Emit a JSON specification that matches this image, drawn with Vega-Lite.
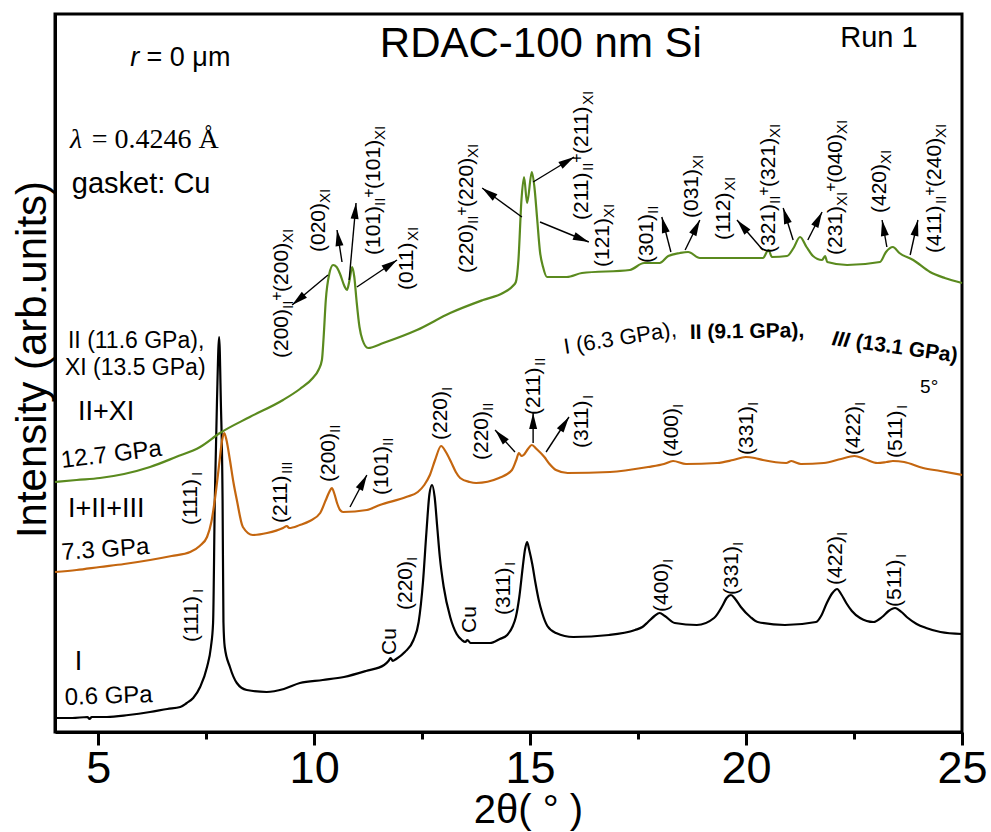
{
  "$schema": "https://vega.github.io/schema/vega-lite/v6.json",
  "width": 907,
  "height": 718,
  "autosize": {"type": "none"},
  "padding": {"left": 55, "top": 14, "right": 29, "bottom": 100},
  "background": "white",
  "config": {
    "font": "Liberation Sans",
    "view": {"stroke": "black", "strokeWidth": 3},
    "axis": {"grid": false}
  },
  "datasets": {
    "cur": [
      {"s":"k","x":4.0,"v":14},{"s":"k","x":4.4,"v":14},{"s":"k","x":4.75,"v":15},{"s":"k","x":4.8,"v":13},{"s":"k","x":4.85,"v":15},{"s":"k","x":5.2,"v":15},{"s":"k","x":5.7,"v":17},{"s":"k","x":6.2,"v":20},{"s":"k","x":6.6,"v":23},{"s":"k","x":6.9,"v":25},{"s":"k","x":7.05,"v":29},{"s":"k","x":7.2,"v":34},{"s":"k","x":7.36,"v":45},{"s":"k","x":7.52,"v":65},{"s":"k","x":7.61,"v":85},{"s":"k","x":7.66,"v":109},{"s":"k","x":7.7,"v":232},{"s":"k","x":7.75,"v":330},{"s":"k","x":7.8,"v":395},{"s":"k","x":7.84,"v":330},{"s":"k","x":7.88,"v":232},{"s":"k","x":7.9,"v":110},{"s":"k","x":7.93,"v":85},{"s":"k","x":8.05,"v":65},{"s":"k","x":8.21,"v":49},{"s":"k","x":8.44,"v":42},{"s":"k","x":8.9,"v":40},{"s":"k","x":9.3,"v":43},{"s":"k","x":9.67,"v":49},{"s":"k","x":10.2,"v":52},{"s":"k","x":10.69,"v":55},{"s":"k","x":11.2,"v":61},{"s":"k","x":11.62,"v":67},{"s":"k","x":11.72,"v":71},{"s":"k","x":11.77,"v":74},{"s":"k","x":11.82,"v":71},{"s":"k","x":11.9,"v":73},{"s":"k","x":12.1,"v":80},{"s":"k","x":12.3,"v":92},{"s":"k","x":12.42,"v":110},{"s":"k","x":12.52,"v":150},{"s":"k","x":12.6,"v":200},{"s":"k","x":12.67,"v":238},{"s":"k","x":12.73,"v":247},{"s":"k","x":12.79,"v":235},{"s":"k","x":12.85,"v":205},{"s":"k","x":12.91,"v":175},{"s":"k","x":13.0,"v":145},{"s":"k","x":13.15,"v":115},{"s":"k","x":13.3,"v":98},{"s":"k","x":13.42,"v":92},{"s":"k","x":13.5,"v":90},{"s":"k","x":13.55,"v":92},{"s":"k","x":13.62,"v":89},{"s":"k","x":13.8,"v":89},{"s":"k","x":14.07,"v":89},{"s":"k","x":14.3,"v":93},{"s":"k","x":14.47,"v":97},{"s":"k","x":14.6,"v":106},{"s":"k","x":14.67,"v":115},{"s":"k","x":14.75,"v":135},{"s":"k","x":14.83,"v":165},{"s":"k","x":14.88,"v":182},{"s":"k","x":14.93,"v":190},{"s":"k","x":14.98,"v":182},{"s":"k","x":15.05,"v":168},{"s":"k","x":15.12,"v":150},{"s":"k","x":15.2,"v":132},{"s":"k","x":15.28,"v":119},{"s":"k","x":15.4,"v":106},{"s":"k","x":15.6,"v":99},{"s":"k","x":16.0,"v":95},{"s":"k","x":16.83,"v":97},{"s":"k","x":17.43,"v":102},{"s":"k","x":17.6,"v":105},{"s":"k","x":17.73,"v":110},{"s":"k","x":17.88,"v":116},{"s":"k","x":18.0,"v":119},{"s":"k","x":18.12,"v":116},{"s":"k","x":18.35,"v":109},{"s":"k","x":18.86,"v":107},{"s":"k","x":19.26,"v":114},{"s":"k","x":19.45,"v":126},{"s":"k","x":19.55,"v":134},{"s":"k","x":19.65,"v":137},{"s":"k","x":19.75,"v":133},{"s":"k","x":19.88,"v":125},{"s":"k","x":20.1,"v":115},{"s":"k","x":20.27,"v":110},{"s":"k","x":20.9,"v":107},{"s":"k","x":21.62,"v":110},{"s":"k","x":21.75,"v":117},{"s":"k","x":21.87,"v":129},{"s":"k","x":22.0,"v":139},{"s":"k","x":22.11,"v":143},{"s":"k","x":22.2,"v":138},{"s":"k","x":22.32,"v":129},{"s":"k","x":22.45,"v":121},{"s":"k","x":22.64,"v":114},{"s":"k","x":22.95,"v":110},{"s":"k","x":23.15,"v":115},{"s":"k","x":23.3,"v":121},{"s":"k","x":23.45,"v":124},{"s":"k","x":23.6,"v":120},{"s":"k","x":23.75,"v":114},{"s":"k","x":23.95,"v":108},{"s":"k","x":24.17,"v":104},{"s":"k","x":24.5,"v":100},{"s":"k","x":25.0,"v":98},
      {"s":"o","x":4.0,"v":160},{"s":"o","x":4.5,"v":162},{"s":"o","x":5.04,"v":165},{"s":"o","x":5.6,"v":168},{"s":"o","x":6.2,"v":172},{"s":"o","x":6.7,"v":176},{"s":"o","x":7.13,"v":180},{"s":"o","x":7.35,"v":186},{"s":"o","x":7.52,"v":195},{"s":"o","x":7.62,"v":210},{"s":"o","x":7.7,"v":232},{"s":"o","x":7.78,"v":260},{"s":"o","x":7.82,"v":275},{"s":"o","x":7.87,"v":292},{"s":"o","x":7.92,"v":299},{"s":"o","x":7.97,"v":292},{"s":"o","x":8.05,"v":272},{"s":"o","x":8.13,"v":250},{"s":"o","x":8.21,"v":232},{"s":"o","x":8.35,"v":205},{"s":"o","x":8.58,"v":197},{"s":"o","x":8.91,"v":199},{"s":"o","x":9.28,"v":204},{"s":"o","x":9.37,"v":206},{"s":"o","x":9.42,"v":204},{"s":"o","x":9.67,"v":207},{"s":"o","x":9.9,"v":211},{"s":"o","x":10.14,"v":219},{"s":"o","x":10.27,"v":232},{"s":"o","x":10.35,"v":240},{"s":"o","x":10.41,"v":244},{"s":"o","x":10.47,"v":238},{"s":"o","x":10.53,"v":229},{"s":"o","x":10.6,"v":222},{"s":"o","x":10.67,"v":220},{"s":"o","x":11.22,"v":222},{"s":"o","x":11.52,"v":227},{"s":"o","x":12.13,"v":235},{"s":"o","x":12.4,"v":240},{"s":"o","x":12.55,"v":247},{"s":"o","x":12.68,"v":257},{"s":"o","x":12.8,"v":272},{"s":"o","x":12.94,"v":286},{"s":"o","x":13.05,"v":280},{"s":"o","x":13.17,"v":270},{"s":"o","x":13.28,"v":260},{"s":"o","x":13.38,"v":254},{"s":"o","x":13.6,"v":250},{"s":"o","x":13.75,"v":249},{"s":"o","x":14.28,"v":254},{"s":"o","x":14.58,"v":262},{"s":"o","x":14.68,"v":272},{"s":"o","x":14.74,"v":279},{"s":"o","x":14.8,"v":276},{"s":"o","x":14.85,"v":277},{"s":"o","x":14.95,"v":283},{"s":"o","x":15.04,"v":287},{"s":"o","x":15.15,"v":283},{"s":"o","x":15.33,"v":275},{"s":"o","x":15.45,"v":268},{"s":"o","x":15.6,"v":262},{"s":"o","x":15.87,"v":259},{"s":"o","x":16.85,"v":260},{"s":"o","x":17.73,"v":265},{"s":"o","x":18.1,"v":268},{"s":"o","x":18.31,"v":271},{"s":"o","x":18.61,"v":268},{"s":"o","x":19.33,"v":269},{"s":"o","x":19.7,"v":272},{"s":"o","x":19.99,"v":275},{"s":"o","x":20.2,"v":274},{"s":"o","x":20.39,"v":272},{"s":"o","x":20.93,"v":269},{"s":"o","x":21.05,"v":271},{"s":"o","x":21.12,"v":270},{"s":"o","x":21.27,"v":268},{"s":"o","x":21.8,"v":269},{"s":"o","x":22.2,"v":273},{"s":"o","x":22.51,"v":276},{"s":"o","x":22.75,"v":273},{"s":"o","x":23.04,"v":269},{"s":"o","x":23.25,"v":270},{"s":"o","x":23.4,"v":271},{"s":"o","x":23.66,"v":270},{"s":"o","x":24.1,"v":264},{"s":"o","x":24.5,"v":261},{"s":"o","x":25.0,"v":257},
      {"s":"g","x":4.0,"v":250},{"s":"g","x":4.5,"v":252},{"s":"g","x":5.04,"v":254},{"s":"g","x":5.6,"v":258},{"s":"g","x":6.2,"v":265},{"s":"g","x":6.8,"v":275},{"s":"g","x":7.36,"v":285},{"s":"g","x":7.82,"v":299},{"s":"g","x":8.51,"v":315},{"s":"g","x":9.28,"v":332},{"s":"g","x":9.67,"v":343},{"s":"g","x":9.97,"v":354},{"s":"g","x":10.1,"v":362},{"s":"g","x":10.18,"v":372},{"s":"g","x":10.22,"v":395},{"s":"g","x":10.27,"v":432},{"s":"g","x":10.35,"v":458},{"s":"g","x":10.44,"v":467},{"s":"g","x":10.52,"v":465},{"s":"g","x":10.6,"v":458},{"s":"g","x":10.7,"v":446},{"s":"g","x":10.76,"v":442},{"s":"g","x":10.82,"v":452},{"s":"g","x":10.88,"v":465},{"s":"g","x":10.93,"v":455},{"s":"g","x":10.98,"v":432},{"s":"g","x":11.05,"v":405},{"s":"g","x":11.12,"v":392},{"s":"g","x":11.25,"v":384},{"s":"g","x":11.6,"v":389},{"s":"g","x":12.38,"v":402},{"s":"g","x":13.15,"v":419},{"s":"g","x":13.91,"v":432},{"s":"g","x":14.37,"v":439},{"s":"g","x":14.6,"v":446},{"s":"g","x":14.67,"v":450},{"s":"g","x":14.73,"v":472},{"s":"g","x":14.8,"v":532},{"s":"g","x":14.86,"v":555},{"s":"g","x":14.93,"v":529},{"s":"g","x":15.04,"v":560},{"s":"g","x":15.1,"v":545},{"s":"g","x":15.16,"v":515},{"s":"g","x":15.23,"v":480},{"s":"g","x":15.3,"v":465},{"s":"g","x":15.39,"v":455},{"s":"g","x":15.85,"v":455},{"s":"g","x":16.2,"v":459},{"s":"g","x":17.31,"v":462},{"s":"g","x":17.64,"v":469},{"s":"g","x":18.0,"v":469},{"s":"g","x":18.2,"v":476},{"s":"g","x":18.47,"v":479},{"s":"g","x":18.66,"v":480},{"s":"g","x":18.93,"v":474},{"s":"g","x":19.37,"v":474},{"s":"g","x":20.39,"v":474},{"s":"g","x":20.52,"v":482},{"s":"g","x":20.6,"v":475},{"s":"g","x":20.95,"v":476},{"s":"g","x":21.1,"v":484},{"s":"g","x":21.25,"v":495},{"s":"g","x":21.4,"v":485},{"s":"g","x":21.55,"v":476},{"s":"g","x":21.76,"v":472},{"s":"g","x":21.83,"v":476},{"s":"g","x":21.88,"v":470},{"s":"g","x":22.34,"v":467},{"s":"g","x":23.1,"v":470},{"s":"g","x":23.24,"v":480},{"s":"g","x":23.4,"v":485},{"s":"g","x":23.55,"v":479},{"s":"g","x":23.87,"v":472},{"s":"g","x":24.26,"v":460},{"s":"g","x":24.6,"v":454},{"s":"g","x":25.0,"v":449}
    ],
    "lab": [
      {"x":9.395,"v":374,"t":"(200)","k":"m"},{"x":9.395,"v":423,"t":"II","k":"s"},{"x":9.395,"v":431.3,"t":"+","k":"p"},{"x":9.395,"v":440.1,"t":"(200)","k":"m"},{"x":9.395,"v":489.1,"t":"XI","k":"s"},
      {"x":10.25,"v":480,"t":"(020)","k":"m"},{"x":10.25,"v":529,"t":"XI","k":"s"},
      {"x":11.525,"v":477,"t":"(101)","k":"m"},{"x":11.525,"v":526,"t":"II","k":"s"},{"x":11.525,"v":534.3,"t":"+","k":"p"},{"x":11.525,"v":543.1,"t":"(101)","k":"m"},{"x":11.525,"v":592.1,"t":"XI","k":"s"},
      {"x":12.29,"v":442,"t":"(011)","k":"m"},{"x":12.29,"v":491,"t":"XI","k":"s"},
      {"x":13.68,"v":459,"t":"(220)","k":"m"},{"x":13.68,"v":508,"t":"II","k":"s"},{"x":13.68,"v":516.3,"t":"+","k":"p"},{"x":13.68,"v":525.1,"t":"(220)","k":"m"},{"x":13.68,"v":574.1,"t":"XI","k":"s"},
      {"x":16.34,"v":512,"t":"(211)","k":"m"},{"x":16.34,"v":561,"t":"II","k":"s"},{"x":16.34,"v":569.3,"t":"+","k":"p"},{"x":16.34,"v":578.1,"t":"(211)","k":"m"},{"x":16.34,"v":627.1,"t":"XI","k":"s"},
      {"x":16.83,"v":465,"t":"(121)","k":"m"},{"x":16.83,"v":514,"t":"XI","k":"s"},
      {"x":17.85,"v":469,"t":"(301)","k":"m"},{"x":17.85,"v":518,"t":"II","k":"s"},
      {"x":18.89,"v":514,"t":"(031)","k":"m"},{"x":18.89,"v":563,"t":"XI","k":"s"},
      {"x":19.63,"v":492,"t":"(112)","k":"m"},{"x":19.63,"v":541,"t":"XI","k":"s"},
      {"x":20.67,"v":479,"t":"(321)","k":"m"},{"x":20.67,"v":528,"t":"II","k":"s"},{"x":20.67,"v":536.3,"t":"+","k":"p"},{"x":20.67,"v":545.1,"t":"(321)","k":"m"},{"x":20.67,"v":594.1,"t":"XI","k":"s"},
      {"x":22.22,"v":477,"t":"(231)","k":"m"},{"x":22.22,"v":526,"t":"XI","k":"s"},{"x":22.22,"v":540.2,"t":"+","k":"p"},{"x":22.22,"v":549,"t":"(040)","k":"m"},{"x":22.22,"v":598,"t":"XI","k":"s"},
      {"x":23.24,"v":519,"t":"(420)","k":"m"},{"x":23.24,"v":568,"t":"XI","k":"s"},
      {"x":24.51,"v":479,"t":"(411)","k":"m"},{"x":24.51,"v":528,"t":"II","k":"s"},{"x":24.51,"v":536.3,"t":"+","k":"p"},{"x":24.51,"v":545.1,"t":"(240)","k":"m"},{"x":24.51,"v":594.1,"t":"XI","k":"s"},
      {"x":7.29,"v":207,"t":"(111)","k":"m"},{"x":7.29,"v":256,"t":"I","k":"s"},
      {"x":9.37,"v":209,"t":"(211)","k":"m"},{"x":9.37,"v":258,"t":"III","k":"s"},
      {"x":10.48,"v":250,"t":"(200)","k":"m"},{"x":10.48,"v":299,"t":"II","k":"s"},
      {"x":11.71,"v":237,"t":"(101)","k":"m"},{"x":11.71,"v":286,"t":"II","k":"s"},
      {"x":13.08,"v":292,"t":"(220)","k":"m"},{"x":13.08,"v":341,"t":"I","k":"s"},
      {"x":14.03,"v":272,"t":"(220)","k":"m"},{"x":14.03,"v":321,"t":"II","k":"s"},
      {"x":15.23,"v":317,"t":"(211)","k":"m"},{"x":15.23,"v":366,"t":"II","k":"s"},
      {"x":16.34,"v":284,"t":"(311)","k":"m"},{"x":16.34,"v":333,"t":"I","k":"s"},
      {"x":18.42,"v":275,"t":"(400)","k":"m"},{"x":18.42,"v":324,"t":"I","k":"s"},
      {"x":20.16,"v":277,"t":"(331)","k":"m"},{"x":20.16,"v":326,"t":"I","k":"s"},
      {"x":22.64,"v":277,"t":"(422)","k":"m"},{"x":22.64,"v":326,"t":"I","k":"s"},
      {"x":23.61,"v":274,"t":"(511)","k":"m"},{"x":23.61,"v":323,"t":"I","k":"s"},
      {"x":7.31,"v":90,"t":"(111)","k":"m"},{"x":7.31,"v":139,"t":"I","k":"s"},
      {"x":11.9,"v":77,"t":"Cu","k":"m"},
      {"x":12.27,"v":122,"t":"(220)","k":"m"},{"x":12.27,"v":171,"t":"I","k":"s"},
      {"x":13.75,"v":99,"t":"Cu","k":"m"},
      {"x":14.53,"v":117,"t":"(311)","k":"m"},{"x":14.53,"v":166,"t":"I","k":"s"},
      {"x":18.19,"v":120,"t":"(400)","k":"m"},{"x":18.19,"v":169,"t":"I","k":"s"},
      {"x":19.81,"v":137,"t":"(331)","k":"m"},{"x":19.81,"v":186,"t":"I","k":"s"},
      {"x":22.22,"v":147,"t":"(422)","k":"m"},{"x":22.22,"v":196,"t":"I","k":"s"},
      {"x":23.59,"v":125,"t":"(511)","k":"m"},{"x":23.59,"v":174,"t":"I","k":"s"}
    ],
    "arr": [
      {"x":10.32,"v":457,"x2":9.49,"v2":427},
      {"x":10.645,"v":470,"x2":10.53,"v2":502},
      {"x":10.81,"v":452,"x2":10.97,"v2":529},
      {"x":10.99,"v":445,"x2":11.92,"v2":472},
      {"x":14.81,"v":515,"x2":13.89,"v2":544},
      {"x":15.07,"v":550,"x2":16.02,"v2":575},
      {"x":15.23,"v":510,"x2":16.36,"v2":490},
      {"x":18.26,"v":480,"x2":18.05,"v2":515},
      {"x":18.59,"v":482,"x2":18.93,"v2":512},
      {"x":20.39,"v":482,"x2":19.79,"v2":512},
      {"x":21.09,"v":492,"x2":20.86,"v2":524},
      {"x":21.43,"v":492,"x2":21.76,"v2":520},
      {"x":23.26,"v":485,"x2":23.15,"v2":512},
      {"x":23.8,"v":477,"x2":23.98,"v2":512},
      {"x":10.83,"v":225,"x2":11.22,"v2":257},
      {"x":14.65,"v":280,"x2":14.19,"v2":302},
      {"x":15.07,"v":289,"x2":15.07,"v2":319},
      {"x":15.37,"v":280,"x2":15.9,"v2":315}
    ]
  },
  "layer": [
    {
      "data": {"name": "cur"},
      "mark": {"type": "line", "strokeWidth": 2.2, "interpolate": "monotone"},
      "encoding": {
        "x": {"field": "x", "type": "quantitative", "scale": {"domain": [4, 25], "nice": false, "zero": false},
          "axis": {"orient": "bottom", "values": [5, 7.5, 10, 12.5, 15, 17.5, 20, 22.5, 25], "tickSize": {"condition": {"test": "datum.value % 5 === 0", "value": 13}, "value": 7}, "tickWidth": 3, "tickColor": "black", "domainWidth": 3, "domainColor": "black", "labelExpr": "datum.value % 5 === 0 ? datum.label : ''", "labelFontSize": 45, "labelFont": "Liberation Sans", "labelColor": "black", "labelPadding": 1, "labelFlush": false, "labelOverlap": false, "format": "d", "title": "2θ( ° )", "titleFontSize": 40, "titleFontWeight": "normal", "titleFont": "Liberation Sans", "titleColor": "black", "titleX": 473, "titleY": 90, "titleBaseline": "alphabetic", "titleAlign": "center", "grid": false}},
        "y": {"field": "v", "type": "quantitative", "scale": {"domain": [0, 718], "nice": false, "zero": false},
          "axis": {"orient": "left", "title": "Intensity (arb.units)", "titleFontSize": 42, "titleFontWeight": "normal", "titleFont": "Liberation Sans", "titleColor": "black", "titleX": -10, "titleY": 345, "titleAngle": 270, "titleBaseline": "alphabetic", "titleAlign": "center", "titleLimit": 1000, "ticks": false, "labels": false, "domainWidth": 3, "domainColor": "black", "grid": false}},
        "color": {"field": "s", "type": "nominal", "scale": {"domain": ["k", "o", "g"], "range": ["#000000", "#c4660f", "#5a8a1e"]}, "legend": null},
        "order": {"field": "x", "type": "quantitative"}
      }
    },
    {
      "data": {"name": "arr"},
      "mark": {"type": "rule", "color": "black", "strokeWidth": 1.4},
      "encoding": {
        "x": {"field": "x", "type": "quantitative", "scale": {"domain": [4, 25], "nice": false, "zero": false}},
        "y": {"field": "v", "type": "quantitative", "scale": {"domain": [0, 718], "nice": false, "zero": false}},
        "x2": {"field": "x2"},
        "y2": {"field": "v2"}
      }
    },
    {
      "data": {"name": "arr"},
      "transform": [{"calculate": "atan2((datum.x2 - datum.x) * 43.19, datum.v2 - datum.v) * 180 / PI", "as": "ang"}],
      "mark": {"type": "point", "shape": "M0,0L0.5,2L-0.5,2Z", "filled": true, "color": "black", "opacity": 1, "size": 256, "strokeWidth": 0},
      "encoding": {
        "x": {"field": "x2", "type": "quantitative", "scale": {"domain": [4, 25], "nice": false, "zero": false}},
        "y": {"field": "v2", "type": "quantitative", "scale": {"domain": [0, 718], "nice": false, "zero": false}},
        "angle": {"field": "ang", "type": "quantitative", "scale": null}
      }
    },
    {
      "data": {"name": "lab"},
      "transform": [{"filter": "datum.k == 'm'"}],
      "mark": {"type": "text", "angle": 270, "align": "left", "baseline": "alphabetic", "fontSize": 21, "color": "black"},
      "encoding": {
        "x": {"field": "x", "type": "quantitative", "scale": {"domain": [4, 25], "nice": false, "zero": false}},
        "y": {"field": "v", "type": "quantitative", "scale": {"domain": [0, 718], "nice": false, "zero": false}},
        "text": {"field": "t"}
      }
    },
    {
      "data": {"name": "lab"},
      "transform": [{"filter": "datum.k == 's'"}],
      "mark": {"type": "text", "angle": 270, "align": "left", "baseline": "alphabetic", "fontSize": 15, "dy": 5, "color": "black"},
      "encoding": {
        "x": {"field": "x", "type": "quantitative", "scale": {"domain": [4, 25], "nice": false, "zero": false}},
        "y": {"field": "v", "type": "quantitative", "scale": {"domain": [0, 718], "nice": false, "zero": false}},
        "text": {"field": "t"}
      }
    },
    {
      "data": {"name": "lab"},
      "transform": [{"filter": "datum.k == 'p'"}],
      "mark": {"type": "text", "angle": 270, "align": "left", "baseline": "alphabetic", "fontSize": 16, "dy": -6, "color": "black"},
      "encoding": {
        "x": {"field": "x", "type": "quantitative", "scale": {"domain": [4, 25], "nice": false, "zero": false}},
        "y": {"field": "v", "type": "quantitative", "scale": {"domain": [0, 718], "nice": false, "zero": false}},
        "text": {"field": "t"}
      }
    },
    {
      "data": {"values": [{"x": 15.25, "v": 675, "t": "RDAC-100 nm Si"}]},
      "mark": {"type": "text", "align": "center", "baseline": "alphabetic", "fontSize": 42, "color": "black"},
      "encoding": {
        "x": {"field": "x", "type": "quantitative", "scale": {"domain": [4, 25], "nice": false, "zero": false}},
        "y": {"field": "v", "type": "quantitative", "scale": {"domain": [0, 718], "nice": false, "zero": false}},
        "text": {"field": "t"}
      }
    },
    {
      "data": {"values": [{"x": 22.18, "v": 685, "t": "Run 1"}, {"x": 4.39, "v": 539, "t": "gasket: Cu"}]},
      "mark": {"type": "text", "align": "left", "baseline": "alphabetic", "fontSize": 29, "color": "black"},
      "encoding": {
        "x": {"field": "x", "type": "quantitative", "scale": {"domain": [4, 25], "nice": false, "zero": false}},
        "y": {"field": "v", "type": "quantitative", "scale": {"domain": [0, 718], "nice": false, "zero": false}},
        "text": {"field": "t"}
      }
    },
    {
      "data": {"values": [{"x": 5.74, "v": 666, "t": "r"}]},
      "mark": {"type": "text", "align": "left", "baseline": "alphabetic", "fontSize": 27, "fontStyle": "italic", "color": "black"},
      "encoding": {
        "x": {"field": "x", "type": "quantitative", "scale": {"domain": [4, 25], "nice": false, "zero": false}},
        "y": {"field": "v", "type": "quantitative", "scale": {"domain": [0, 718], "nice": false, "zero": false}},
        "text": {"field": "t"}
      }
    },
    {
      "data": {"values": [{"x": 6.12, "v": 666, "t": "= 0 μm"}]},
      "mark": {"type": "text", "align": "left", "baseline": "alphabetic", "fontSize": 27, "color": "black"},
      "encoding": {
        "x": {"field": "x", "type": "quantitative", "scale": {"domain": [4, 25], "nice": false, "zero": false}},
        "y": {"field": "v", "type": "quantitative", "scale": {"domain": [0, 718], "nice": false, "zero": false}},
        "text": {"field": "t"}
      }
    },
    {
      "data": {"values": [{"x": 4.35, "v": 584, "t": "λ"}]},
      "mark": {"type": "text", "align": "left", "baseline": "alphabetic", "fontSize": 28, "font": "Liberation Serif", "fontStyle": "italic", "color": "black"},
      "encoding": {
        "x": {"field": "x", "type": "quantitative", "scale": {"domain": [4, 25], "nice": false, "zero": false}},
        "y": {"field": "v", "type": "quantitative", "scale": {"domain": [0, 718], "nice": false, "zero": false}},
        "text": {"field": "t"}
      }
    },
    {
      "data": {"values": [{"x": 4.85, "v": 584, "t": "= 0.4246 Å"}]},
      "mark": {"type": "text", "align": "left", "baseline": "alphabetic", "fontSize": 28, "font": "Liberation Serif", "color": "black"},
      "encoding": {
        "x": {"field": "x", "type": "quantitative", "scale": {"domain": [4, 25], "nice": false, "zero": false}},
        "y": {"field": "v", "type": "quantitative", "scale": {"domain": [0, 718], "nice": false, "zero": false}},
        "text": {"field": "t"}
      }
    },
    {
      "data": {"values": [{"x": 4.30, "v": 384, "t": "II (11.6 GPa),"}, {"x": 4.23, "v": 357, "t": "XI (13.5 GPa)"}]},
      "mark": {"type": "text", "align": "left", "baseline": "alphabetic", "fontSize": 23, "color": "black"},
      "encoding": {
        "x": {"field": "x", "type": "quantitative", "scale": {"domain": [4, 25], "nice": false, "zero": false}},
        "y": {"field": "v", "type": "quantitative", "scale": {"domain": [0, 718], "nice": false, "zero": false}},
        "text": {"field": "t"}
      }
    },
    {
      "data": {"values": [{"x": 4.53, "v": 312, "t": "II+XI"}, {"x": 4.30, "v": 215, "t": "I+II+III"}, {"x": 4.46, "v": 62, "t": "I"}]},
      "mark": {"type": "text", "align": "left", "baseline": "alphabetic", "fontSize": 27, "color": "black"},
      "encoding": {
        "x": {"field": "x", "type": "quantitative", "scale": {"domain": [4, 25], "nice": false, "zero": false}},
        "y": {"field": "v", "type": "quantitative", "scale": {"domain": [0, 718], "nice": false, "zero": false}},
        "text": {"field": "t"}
      }
    },
    {
      "data": {"values": [{"x": 4.16, "v": 264, "t": "12.7 GPa"}]},
      "mark": {"type": "text", "align": "left", "baseline": "alphabetic", "fontSize": 24, "angle": -7, "color": "black"},
      "encoding": {
        "x": {"field": "x", "type": "quantitative", "scale": {"domain": [4, 25], "nice": false, "zero": false}},
        "y": {"field": "v", "type": "quantitative", "scale": {"domain": [0, 718], "nice": false, "zero": false}},
        "text": {"field": "t"}
      }
    },
    {
      "data": {"values": [{"x": 4.16, "v": 172, "t": "7.3 GPa"}]},
      "mark": {"type": "text", "align": "left", "baseline": "alphabetic", "fontSize": 24, "angle": -4, "color": "black"},
      "encoding": {
        "x": {"field": "x", "type": "quantitative", "scale": {"domain": [4, 25], "nice": false, "zero": false}},
        "y": {"field": "v", "type": "quantitative", "scale": {"domain": [0, 718], "nice": false, "zero": false}},
        "text": {"field": "t"}
      }
    },
    {
      "data": {"values": [{"x": 4.23, "v": 27, "t": "0.6 GPa"}]},
      "mark": {"type": "text", "align": "left", "baseline": "alphabetic", "fontSize": 24, "angle": -2, "color": "black"},
      "encoding": {
        "x": {"field": "x", "type": "quantitative", "scale": {"domain": [4, 25], "nice": false, "zero": false}},
        "y": {"field": "v", "type": "quantitative", "scale": {"domain": [0, 718], "nice": false, "zero": false}},
        "text": {"field": "t"}
      }
    },
    {
      "data": {"values": [{"x": 15.81, "v": 378, "t": "I (6.3 GPa),"}]},
      "mark": {"type": "text", "align": "left", "baseline": "alphabetic", "fontSize": 22, "angle": -9, "color": "black"},
      "encoding": {
        "x": {"field": "x", "type": "quantitative", "scale": {"domain": [4, 25], "nice": false, "zero": false}},
        "y": {"field": "v", "type": "quantitative", "scale": {"domain": [0, 718], "nice": false, "zero": false}},
        "text": {"field": "t"}
      }
    },
    {
      "data": {"values": [{"x": 18.70, "v": 393, "t": "II (9.1 GPa),"}]},
      "mark": {"type": "text", "align": "left", "baseline": "alphabetic", "fontSize": 21, "fontWeight": "bold", "angle": -1, "color": "black"},
      "encoding": {
        "x": {"field": "x", "type": "quantitative", "scale": {"domain": [4, 25], "nice": false, "zero": false}},
        "y": {"field": "v", "type": "quantitative", "scale": {"domain": [0, 718], "nice": false, "zero": false}},
        "text": {"field": "t"}
      }
    },
    {
      "data": {"values": [{"x": 21.97, "v": 387, "t": "III"}]},
      "mark": {"type": "text", "align": "left", "baseline": "alphabetic", "fontSize": 21, "fontWeight": "bold", "fontStyle": "italic", "angle": 8, "color": "black"},
      "encoding": {
        "x": {"field": "x", "type": "quantitative", "scale": {"domain": [4, 25], "nice": false, "zero": false}},
        "y": {"field": "v", "type": "quantitative", "scale": {"domain": [0, 718], "nice": false, "zero": false}},
        "text": {"field": "t"}
      }
    },
    {
      "data": {"values": [{"x": 22.52, "v": 384, "t": "(13.1 GPa)"}]},
      "mark": {"type": "text", "align": "left", "baseline": "alphabetic", "fontSize": 21, "fontWeight": "bold", "angle": 8, "color": "black"},
      "encoding": {
        "x": {"field": "x", "type": "quantitative", "scale": {"domain": [4, 25], "nice": false, "zero": false}},
        "y": {"field": "v", "type": "quantitative", "scale": {"domain": [0, 718], "nice": false, "zero": false}},
        "text": {"field": "t"}
      }
    },
    {
      "data": {"values": [{"x": 24.03, "v": 339, "t": "5°"}]},
      "mark": {"type": "text", "align": "left", "baseline": "alphabetic", "fontSize": 19, "color": "black"},
      "encoding": {
        "x": {"field": "x", "type": "quantitative", "scale": {"domain": [4, 25], "nice": false, "zero": false}},
        "y": {"field": "v", "type": "quantitative", "scale": {"domain": [0, 718], "nice": false, "zero": false}},
        "text": {"field": "t"}
      }
    }
  ]
}
